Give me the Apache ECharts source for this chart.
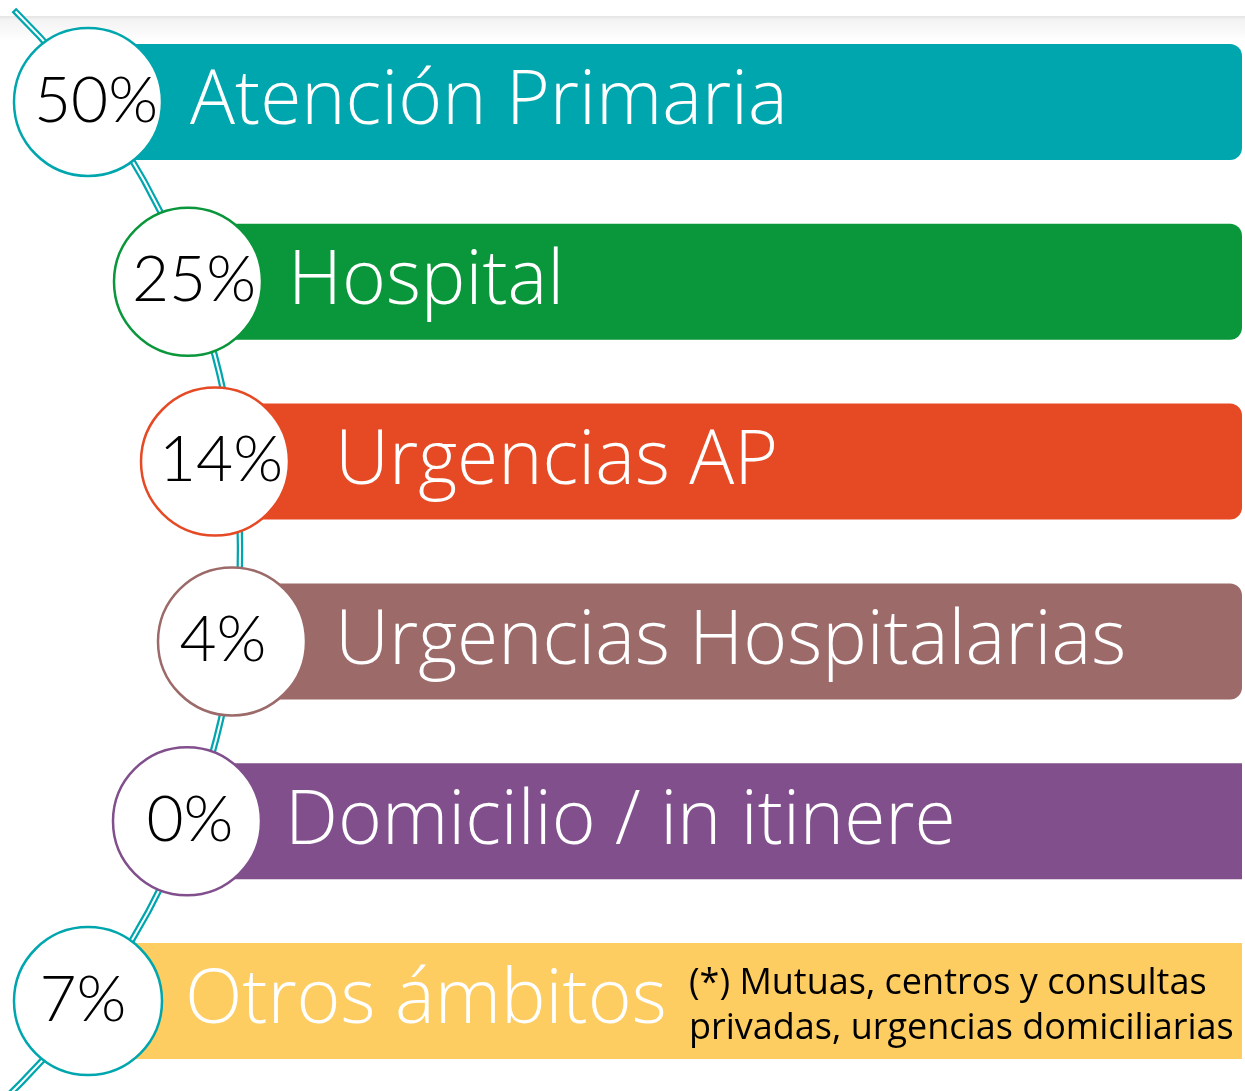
<!DOCTYPE html>
<html>
<head>
<meta charset="utf-8">
<script src="https://cdn.jsdelivr.net/npm/echarts@6/dist/echarts.min.js"></script>
<style>
html,body{margin:0;padding:0;background:#fff;}
#chart{width:1245px;height:1091px;}
</style>
</head>
<body>
<div id="chart"></div>
<script>
// ---- data ----
const categories = ['Atención Primaria', 'Hospital', 'Urgencias AP', 'Urgencias Hospitalarias', 'Domicilio / in itinere', 'Otros ámbitos'];
const values = [50, 25, 14, 4, 0, 7];
const noteLines = ['(*) Mutuas, centros y consultas', 'privadas, urgencias domiciliarias'];

// ---- styles / layout ----
const barColors = ['#00A6AE', '#0A963A', '#E54A24', '#9B6A69', '#804F8C', '#FDCD62'];
const ringColors = ['#00A6AE', '#0A963A', '#E54A24', '#9B6A69', '#804F8C', '#00A6AE'];
const circleX = [88, 188, 215, 232, 187, 88];
const labelOffset = [102, 100, 120, 103, 98, 97];
const pctShift = [8, 6, 6, -9, 3, -5];
const roundEnd = [true, true, true, true, false, false];
const BAR_END = 1242;
const FONT = '"Open Sans", Lato, sans-serif';

const chart = echarts.init(document.getElementById('chart'));

const option = {
  animation: false,
  backgroundColor: '#ffffff',
  grid: { left: 0, right: 0, top: 12, height: 1080 },
  xAxis: { type: 'value', min: 0, max: 1245, show: false },
  yAxis: { type: 'category', data: categories, inverse: true, show: false },
  graphic: [
    {
      type: 'rect', z: 0, silent: true,
      shape: { x: 0, y: 16, width: 1245, height: 26 },
      style: {
        fill: new echarts.graphic.LinearGradient(0, 0, 0, 1, [
          { offset: 0, color: '#e4e4e4' },
          { offset: 0.15, color: '#f3f3f3' },
          { offset: 1, color: '#ffffff' }
        ])
      }
    },
    {
      type: 'arc', z: 1, silent: true,
      shape: { cx: -518, cy: 550, r: 758, startAngle: -0.793, endAngle: 0.9 },
      style: { stroke: '#00A6AE', lineWidth: 6.5, fill: null }
    },
    {
      type: 'arc', z: 2, silent: true,
      shape: { cx: -518, cy: 550, r: 758, startAngle: -0.79, endAngle: 0.9 },
      style: { stroke: '#ffffff', lineWidth: 2, fill: null }
    }
  ],
  series: [{
    type: 'custom',
    z: 10,
    data: values.map((v, i) => [circleX[i], i, v]),
    encode: { x: 0, y: 1 },
    renderItem: function (params, api) {
      const i = params.dataIndex;
      const c = api.coord([api.value(0), api.value(1)]);
      const endPt = api.coord([BAR_END, api.value(1)]);
      const h = 116;
      const rad = 74;
      const children = [];
      children.push({
        type: 'rect',
        shape: { x: c[0], y: c[1] - h / 2, width: endPt[0] - c[0], height: h, r: roundEnd[i] ? [0, 12, 12, 0] : 0 },
        style: { fill: barColors[i] }
      });
      children.push({
        type: 'text',
        style: {
          x: c[0] + labelOffset[i], y: c[1] + 1,
          text: categories[i],
          fill: '#ffffff',
          font: '300 75px ' + FONT,
          verticalAlign: 'middle', align: 'left'
        }
      });
      if (i === 5) {
        children.push({
          type: 'text',
          style: {
            x: 689, y: c[1] + 5,
            text: noteLines.join('\n'),
            fill: '#000000',
            font: '400 36px ' + FONT,
            lineHeight: 45,
            verticalAlign: 'middle', align: 'left'
          }
        });
      }
      children.push({
        type: 'circle',
        shape: { cx: c[0], cy: c[1], r: rad },
        style: { fill: '#ffffff', stroke: ringColors[i], lineWidth: 2.5 }
      });
      children.push({
        type: 'text',
        style: {
          x: c[0] + pctShift[i], y: c[1] - 1,
          text: api.value(2) + '%',
          fill: '#000000',
          font: '300 64px Lato, sans-serif',
          verticalAlign: 'middle', align: 'center'
        }
      });
      return { type: 'group', children: children };
    }
  }]
};
chart.setOption(option);
</script>
</body>
</html>
